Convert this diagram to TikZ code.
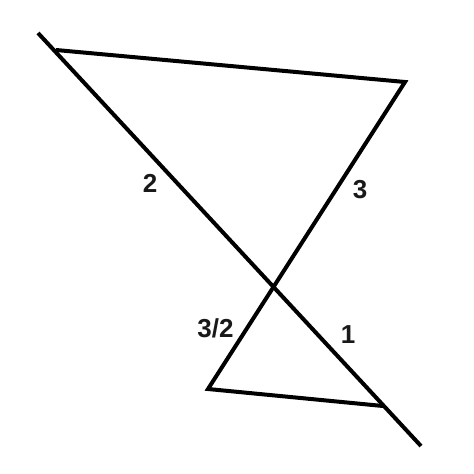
\documentclass[tikz,border=0pt]{standalone}
\usepackage{fontspec}
\setmainfont{Liberation Sans}
\begin{document}
\begin{tikzpicture}[x=1pt,y=-1pt,
  edge/.style={line width=4pt,line join=miter},
  lbl/.style={font=\fontsize{26}{30}\selectfont\bfseries,text=black!90,inner sep=0pt}]
\useasboundingbox (0,0) rectangle (474,474);
\coordinate (S) at (38,33);
\coordinate (E) at (421,446);
\coordinate (A) at (56,50);
\coordinate (B) at (405,82);
\coordinate (C) at (208,389);
\coordinate (D) at (383,406);
\draw[edge] (S) -- (E);
\draw[edge] (A) -- (B) -- (C) -- (D);
\node[lbl] (l2) at (150,183.5) {2};
\node[lbl] (l3) at (360,190) {3};
\node[lbl] (l32) at (215.5,328) {3/2};
\node[lbl] (l1) at (348,334.5) {1};
\end{tikzpicture}
\end{document}
